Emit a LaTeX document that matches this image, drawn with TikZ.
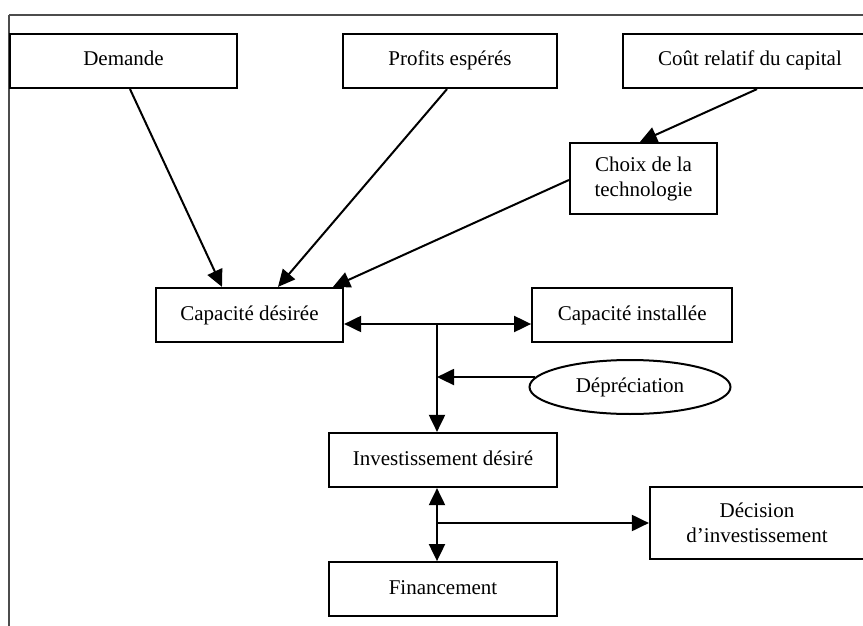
\documentclass[tikz,border=0pt]{standalone}
\usepackage{fontspec}
\setmainfont{Liberation Serif}
\usetikzlibrary{arrows.meta, positioning, shapes.geometric}

\begin{document}
\begin{tikzpicture}[
            x=1pt, y=-1pt,
            font=\fontsize{21}{25}\selectfont,
            boxnode/.style={rectangle, draw=black, line width=2.2pt, minimum height=54pt, inner sep=2pt, align=center},
            squarenode/.style={boxnode, text height=14pt, text depth=4pt},
            tallnode/.style={boxnode, minimum height=72pt},
            ovalnode/.style={ellipse, draw=black, line width=2pt, minimum width=201pt, minimum height=54pt, inner sep=0pt, text height=14pt, text depth=4pt},
            framelines/.style={draw=black!70, line width=1.6pt},
            link/.style={line width=2pt, -{Triangle[length=17pt, width=16pt]}},
            twolink/.style={line width=2pt, {Triangle[length=17pt, width=16pt]}-{Triangle[length=17pt, width=16pt]}},
            ]
            \useasboundingbox (0,0) rectangle (863,626);
            \clip (0,0) rectangle (863,626);
            \draw[framelines] (9,15) -- (880,15);
            \draw[framelines] (9,15) -- (9,640);

            \node[squarenode, minimum width=227pt]    (dem)   at (123.5,61) {Demande};
            \node[squarenode, minimum width=214pt]    (prof)  at (450,61) {Profits espérés};
            \node[squarenode, minimum width=254pt]    (cout)  at (750,61) {Coût relatif du capital};
            \node[tallnode, minimum width=147pt, minimum height=71pt] (choix) at (643.5,178.5) {Choix de la\\technologie};

            \node[squarenode, minimum width=187pt]    (capd)  at (249.5,315) {Capacité désirée};
            \node[squarenode, minimum width=200pt]    (capi)  [right=187pt of capd] {Capacité installée};
            \node[ovalnode]                           (dep)   at (630,387) {Dépréciation};

            \node[squarenode, minimum width=228pt]    (inv)   at (443,460) {Investissement désiré};
            \node[squarenode, minimum width=228pt]    (fin)   [below=73pt of inv] {Financement};
            \node[tallnode, minimum width=214pt]      (dec)   at (757,523) {Décision\\d’investissement};

            \coordinate (split) at (437,324);

            \draw[link] ([xshift=6.5pt]dem.south) -- ([xshift=-27.5pt]capd.north);
            \draw[link] ([xshift=-3pt]prof.south) -- ([xshift=28.5pt]capd.north);
            \draw[link] ([yshift=-1.5pt]choix.west) -- ([xshift=83.5pt]capd.north);
            \draw[link] ([xshift=7pt]cout.south) -- ([xshift=-3.5pt]choix.north);
            \draw[twolink] ([yshift=-9pt]capd.east) -- ([yshift=-9pt]capi.west);
            \draw[link] (split) -- (split |- inv.north);
            \draw[link] (dep.174) -- (dep.174 -| split);
            \draw[twolink] (split |- inv.south) -- (split |- fin.north);
            \draw[link] (dec.west -| split) -- (dec.west);
        \end{tikzpicture}
\end{document}
